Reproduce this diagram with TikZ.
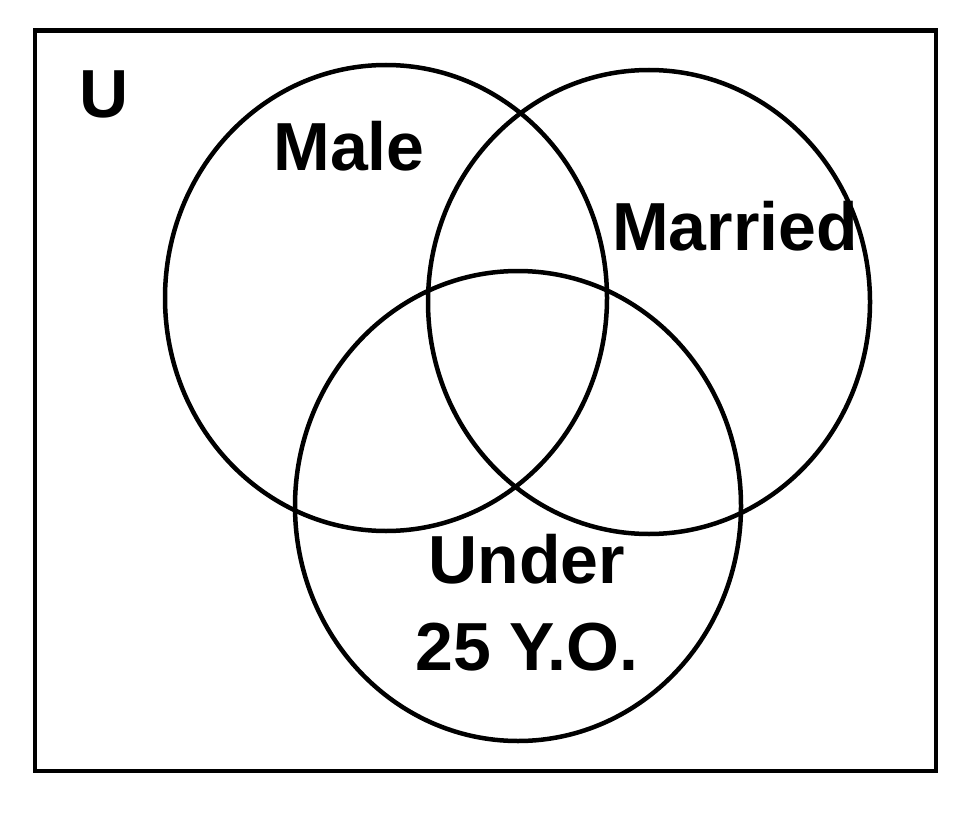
\documentclass[tikz,border=0pt]{standalone}
\usepackage{fontspec}
\setmainfont{Liberation Sans}
\usetikzlibrary{shapes.geometric}
\tikzset{
  setcircle/.style={ellipse, draw=black, line width=4.5pt, inner sep=0pt},
  frame/.style={draw=black, line width=4.5pt},
  lbl/.style={font=\fontsize{68}{80}\selectfont\bfseries, anchor=base, inner sep=0pt}
}
\begin{document}
\begin{tikzpicture}[x=1pt,y=-1pt]
\useasboundingbox (0,0) rectangle (974,824);
\draw[frame] (35,30.5) rectangle (936,771);
\node[setcircle, minimum width=442pt, minimum height=466pt] (male) at (386,298) {};
\node[setcircle, minimum width=442pt, minimum height=464pt] (married) at (649,302) {};
\node[setcircle, minimum width=446pt, minimum height=470pt] (under) at (518,506) {};
\node[lbl] (u) at (104,118) {U};
\node[lbl] (malel) at (349,170) {Male};
\node[lbl] (marriedl) at (735,250) {Married};
\node[lbl] (underl) at (527,583) {Under};
\node[lbl] (agel) at (527,670) {25 Y.O.};
\end{tikzpicture}
\end{document}
